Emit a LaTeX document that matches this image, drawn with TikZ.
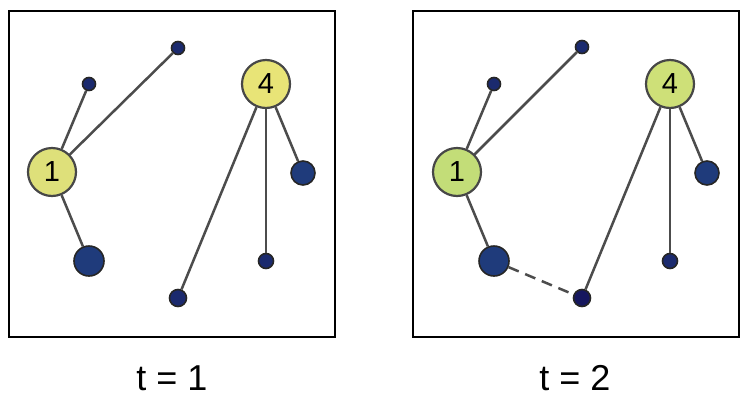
\documentclass[tikz,border=0pt]{standalone}
\usepackage{fontspec}
\setmainfont{Liberation Sans}
\usetikzlibrary{positioning}
\definecolor{hubA}{HTML}{DEE07A}
\definecolor{hubB}{HTML}{E8E477}
\definecolor{hubC}{HTML}{C3DD78}
\definecolor{hubD}{HTML}{CEE078}
\definecolor{leafbig}{HTML}{1F3B7B}
\definecolor{leafsmall}{HTML}{1B2A6E}
\definecolor{leafdark}{HTML}{16175E}
\begin{document}
\begin{tikzpicture}[x=1pt, y=-1pt,
  hub/.style={circle, draw=black!72, line width=2.2pt, minimum size=48pt, inner sep=0pt, font=\fontsize{29}{29}\selectfont},
  leaf/.style={circle, draw=black!85, line width=1.6pt, fill=leafsmall, inner sep=0pt, minimum size=#1},
  link/.style={draw=black!70, line width=2.5pt},
  frame/.style={draw=black, line width=2pt},
  caption/.style={font=\fontsize{36}{36}\selectfont}]
\useasboundingbox (0,0) rectangle (752,402);
% t = 1
\draw[frame] (9,11) rectangle (335,337);
\node[hub, fill=hubA] (a1) at (52,172) {1};
\node[hub, fill=hubB] (a4) at (266,84) {4};
\node[leaf=13pt] (a2) at (89,84) {};
\node[leaf=13pt] (a3) at (178,48) {};
\node[leaf=30pt, fill=leafbig] (a5) at (89,261) {};
\node[leaf=24pt, fill=leafbig] (a6) at (303,173) {};
\node[leaf=15pt] (a7) at (266,261) {};
\node[leaf=17pt] (a8) at (178,298) {};
\foreach \p/\q in {a1/a2,a1/a3,a1/a5,a4/a6,a4/a7,a4/a8} \draw[link] (\p) -- (\q);
\node[caption] (ta) at (172,378) {t = 1};
% t = 2
\draw[frame] (413,11) rectangle (739,337);
\node[hub, fill=hubC] (b1) at (457,172) {1};
\node[hub, fill=hubD] (b4) at (670,84) {4};
\node[leaf=13pt] (b2) at (494,84) {};
\node[leaf=13pt] (b3) at (582,47) {};
\node[leaf=30pt, fill=leafbig] (b5) at (494,261) {};
\node[leaf=24pt, fill=leafbig] (b6) at (707,173) {};
\node[leaf=15pt] (b7) at (670,261) {};
\node[leaf=17pt, fill=leafdark] (b8) at (582,298) {};
\foreach \p/\q in {b1/b2,b1/b3,b1/b5,b4/b6,b4/b7,b4/b8} \draw[link] (\p) -- (\q);
\draw[link, dash pattern=on 11pt off 7pt] (b5) -- (b8);
\node[caption] (tb) at (575,378) {t = 2};
\end{tikzpicture}
\end{document}
